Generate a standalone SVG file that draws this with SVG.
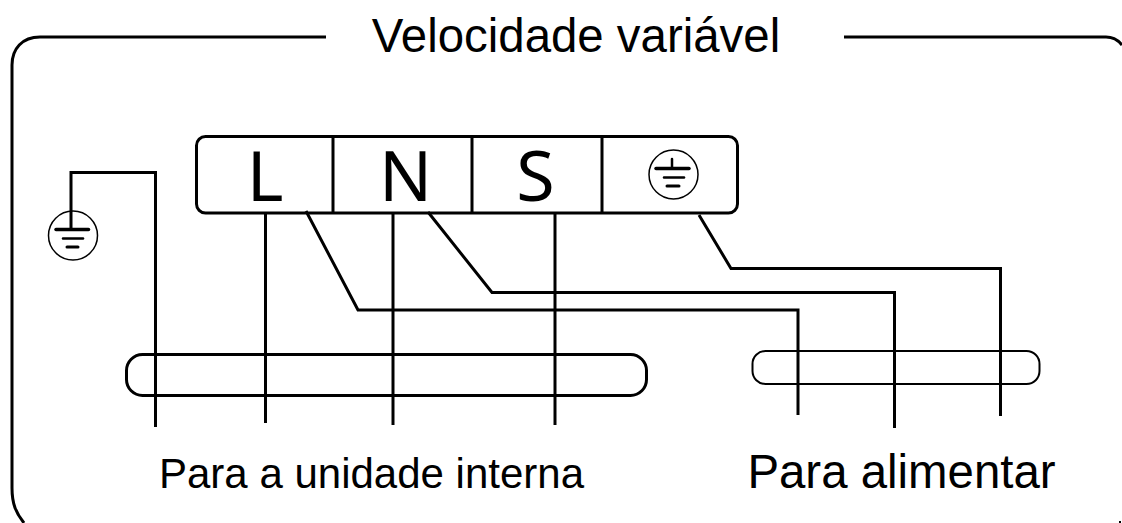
<svg xmlns="http://www.w3.org/2000/svg" width="1122" height="523" viewBox="0 0 1122 523">
<style>
.w{fill:none;stroke:#000;stroke-width:3}
.t{font-family:"Liberation Sans",Arial,sans-serif;fill:#000}
.k{font-family:"Noto Sans",Arial,sans-serif;fill:#000;font-size:70px;text-anchor:middle}
.g{fill:none;stroke:#000;stroke-width:1.5}
.b{stroke:#000;fill:none;stroke-linecap:round}
</style>
<rect width="1122" height="523" fill="#fff"/>
<g id="frame">
<path class="w" d="M326 37H40C22 37 12 49 12 65V488C12 504 16 513 24 523"/>
<path class="w" d="M844 37H1106C1113 37 1118 40 1122 45"/>
<path d="M1119 523V521H1121V523Z" fill="#000"/>
<text class="t" x="576" y="52" font-size="47.400" text-anchor="middle">Velocidade variável</text>
</g>
<g id="terminal">
<rect class="w" x="196.500" y="136.500" width="541" height="76.500" rx="9"/>
<path class="w" d="M333 136V213M472 136V213M602 136V213"/>
<text class="k" x="265" y="200.500">L</text>
<text class="k" x="405.500" y="200.500">N</text>
<text class="k" x="535.500" y="200.500">S</text>
</g>
<g id="terminal-earth">
<circle class="g" cx="673.500" cy="174.500" r="24.500"/>
<path class="b" stroke-width="2.500" d="M672 159V168"/>
<path class="b" stroke-width="3.500" d="M656 168.500H689"/>
<path class="b" stroke-width="2.500" d="M664 177.500H684"/>
<path class="b" stroke-width="3" d="M667 186H679"/>
</g>
<g id="earth">
<circle class="g" cx="73" cy="235.500" r="24.500"/>
<path class="b" stroke-width="3.500" d="M56 229.500H88.500"/>
<path class="b" stroke-width="2.500" d="M63 238.500H83"/>
<path class="b" stroke-width="3" d="M67 247H78"/>
</g>
<g id="connectors">
<path class="w" d="M71 229V172.500H155.500V427"/>
<path class="w" d="M265.500 213V423"/>
<path class="w" d="M393 213V425"/>
<path class="w" d="M555 213V425"/>
<path class="w" d="M306 211L358 310H798V415"/>
<path class="w" d="M428 212L492 292.500H894.500V428"/>
<path class="w" d="M699 215L731 268.500H1000.500V416"/>
</g>
<g id="bundle-internal">
<rect class="w" x="126.500" y="354.500" width="520" height="41" rx="16"/>
<text class="t" x="371.500" y="488" font-size="42" text-anchor="middle">Para a unidade interna</text>
</g>
<g id="bundle-power">
<rect x="752.500" y="351" width="287" height="33" rx="13" fill="none" stroke="#000" stroke-width="2"/>
<text class="t" x="901.500" y="488" font-size="47.400" text-anchor="middle">Para alimentar</text>
</g>
</svg>
